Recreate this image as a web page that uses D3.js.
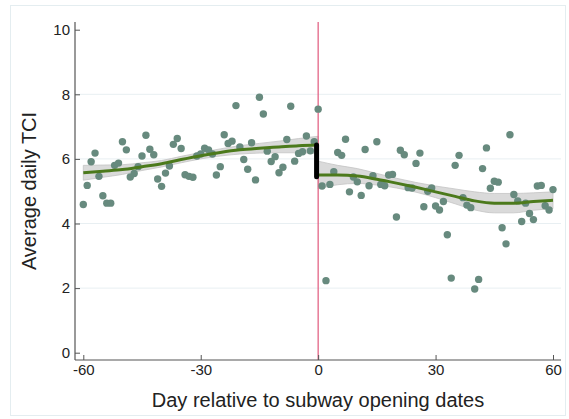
<!DOCTYPE html>
<html>
<head>
<meta charset="utf-8">
<script src="https://cdn.jsdelivr.net/npm/d3@7"></script>
<style>
  html, body { margin: 0; padding: 0; background: #ffffff; }
  svg { display: block; font-family: "Liberation Sans", Arial, sans-serif; }
</style>
</head>
<body>
<svg id="chart" width="569" height="419"></svg>
<script>
// ---------------- data ----------------
const leftDays = d3.range(-60, 1);
const leftValues = [4.59, 5.18, 5.91, 6.18, 5.46, 4.86, 4.63, 4.63, 5.80, 5.87,
  6.53, 6.28, 5.44, 5.55, 5.76, 6.09, 6.73, 6.30, 6.13, 5.38,
  5.15, 5.56, 5.78, 6.45, 6.63, 6.32, 5.51, 5.46, 5.43, 6.09,
  6.15, 6.33, 6.28, 6.15, 5.50, 5.76, 6.75, 6.48, 6.55, 7.65,
  6.37, 5.98, 5.68, 6.50, 5.35, 7.91, 7.39, 6.24, 5.92, 6.07,
  5.57, 5.74, 6.60, 7.63, 5.93, 6.17, 6.22, 6.71, 6.25, 6.53, 7.54];
const rightDays = d3.range(1, 61);
const rightValues = [5.16, 2.23, 5.21, 5.60, 6.20, 6.11, 6.61, 4.98, 5.44, 5.29,
  4.87, 6.29, 5.17, 5.48, 6.53, 5.21, 5.17, 5.50, 5.52, 4.20,
  6.27, 6.13, 5.11, 5.10, 5.86, 6.18, 4.52, 5.00, 5.10, 4.54,
  4.42, 4.68, 3.65, 2.31, 5.80, 6.11, 4.80, 4.57, 4.49, 1.97,
  2.27, 5.70, 6.34, 5.09, 5.31, 5.28, 3.87, 3.37, 6.75, 4.90,
  4.70, 4.06, 4.63, 4.31, 4.12, 5.16, 5.18, 4.55, 4.42, 5.05];

// local polynomial fits with confidence bands
const fitLeftDays = [-60, -55, -50, -45, -40, -35, -30, -25, -20, -15, -10, -5, 0];
const fitLeft     = [5.57, 5.62, 5.67, 5.76, 5.85, 5.98, 6.10, 6.20, 6.28, 6.33, 6.37, 6.41, 6.43];
const ciLeftHalf  = [0.23, 0.19, 0.15, 0.12, 0.10, 0.10, 0.10, 0.11, 0.13, 0.15, 0.18, 0.22, 0.27];
const fitRightDays = [0, 5, 10, 15, 20, 25, 30, 35, 40, 45, 50, 55, 60];
const fitRight     = [5.50, 5.50, 5.47, 5.37, 5.25, 5.12, 4.98, 4.84, 4.70, 4.63, 4.63, 4.68, 4.72];
const ciRightHalf  = [0.43, 0.30, 0.23, 0.18, 0.15, 0.15, 0.18, 0.23, 0.28, 0.30, 0.30, 0.27, 0.26];

// discontinuity at the cutoff
const jumpDay = -0.4;
const jumpFrom = 6.43, jumpTo = 5.45;

const xTicks = [-60, -30, 0, 30, 60];
const xTickLabels = ["-60", "-30", "0", "30", "60"];
const yTicks = [0, 2, 4, 6, 8, 10];
const yTickLabels = ["0", "2", "4", "6", "8", "10"];
const yGrid = [2, 4, 6, 8];
const xTitle = "Day relative to subway opening dates";
const yTitle = "Average daily TCI";

// ---------------- drawing ----------------
const svg = d3.select("#chart");
const plotLeft = 75, plotRight = 561, plotTop = 22, plotBottom = 360;

const x = d3.scaleLinear().domain([-60, 60]).range([83.3, 553]);
const y = d3.scaleLinear().domain([0, 10]).range([352.7, 29.7]);

// outer frame
svg.append("rect").attr("x", 10.5).attr("y", 5.5).attr("width", 555).attr("height", 410)
  .attr("fill", "#ffffff").attr("stroke", "#e4edf0").attr("stroke-width", 1);

// gridlines
svg.append("g").selectAll("line").data(yGrid).join("line")
  .attr("x1", plotLeft).attr("x2", plotRight)
  .attr("y1", d => y(d)).attr("y2", d => y(d))
  .attr("stroke", "#e8eff2").attr("stroke-width", 1);

// CI bands
function band(days, fit, half) {
  const pts = days.map((d, i) => ({ d, lo: fit[i] - half[i], hi: fit[i] + half[i] }));
  const area = d3.area().x(p => x(p.d)).y0(p => y(p.lo)).y1(p => y(p.hi)).curve(d3.curveMonotoneX);
  svg.append("path").datum(pts).attr("d", area)
    .attr("fill", "#dadada").attr("stroke", "#c4c4c4").attr("stroke-width", 0.8);
}
band(fitLeftDays, fitLeft, ciLeftHalf);
band(fitRightDays, fitRight, ciRightHalf);

// red cutoff line
svg.append("line").attr("x1", x(0)).attr("x2", x(0)).attr("y1", plotTop).attr("y2", plotBottom)
  .attr("stroke", "#e0587c").attr("stroke-width", 1.2);

// scatter points
const pts = leftDays.map((d, i) => ({ d, v: leftValues[i] }))
  .concat(rightDays.map((d, i) => ({ d, v: rightValues[i] })));
svg.append("g").selectAll("circle").data(pts).join("circle")
  .attr("cx", p => x(p.d)).attr("cy", p => y(p.v)).attr("r", 3.7)
  .attr("fill", "#678a7e");

// fitted lines
function fitLine(days, fit) {
  const line = d3.line().x((d, i) => x(days[i])).y(d => y(d)).curve(d3.curveMonotoneX);
  svg.append("path").datum(fit).attr("d", line)
    .attr("fill", "none").attr("stroke", "#4c7a1c").attr("stroke-width", 3);
}
fitLine(fitLeftDays, fitLeft);
fitLine(fitRightDays, fitRight);

// jump bar
svg.append("line").attr("x1", x(jumpDay)).attr("x2", x(jumpDay))
  .attr("y1", y(jumpFrom)).attr("y2", y(jumpTo))
  .attr("stroke", "#000000").attr("stroke-width", 5).attr("stroke-linecap", "round");

// axes
const yAxis = svg.append("g").attr("transform", `translate(${plotLeft},0)`)
  .call(d3.axisLeft(y).tickValues(yTicks).tickFormat((d, i) => yTickLabels[i])
    .tickSize(-5).tickPadding(5).tickSizeOuter(0));
const xAxis = svg.append("g").attr("transform", `translate(0,${plotBottom})`)
  .call(d3.axisBottom(x).tickValues(xTicks).tickFormat((d, i) => xTickLabels[i])
    .tickSize(-5).tickPadding(4).tickSizeOuter(0));
[yAxis, xAxis].forEach(g => {
  g.selectAll("text").attr("font-size", 15).attr("fill", "#222").attr("font-family", "Liberation Sans, Arial, sans-serif");
  g.selectAll("line").attr("stroke", "#555");
});
yAxis.select(".domain").remove();
xAxis.select(".domain").remove();
svg.append("line").attr("x1", plotLeft).attr("x2", plotLeft).attr("y1", plotTop).attr("y2", plotBottom)
  .attr("stroke", "#555").attr("stroke-width", 1.2);
svg.append("line").attr("x1", plotLeft).attr("x2", plotRight).attr("y1", plotBottom).attr("y2", plotBottom)
  .attr("stroke", "#555").attr("stroke-width", 1.2);

// titles
svg.append("text").attr("x", 318).attr("y", 407).attr("text-anchor", "middle")
  .attr("font-size", 20).attr("fill", "#222").text(xTitle);
svg.append("text").attr("transform", "translate(36,191) rotate(-90)").attr("text-anchor", "middle")
  .attr("font-size", 20).attr("fill", "#222").text(yTitle);
</script>
</body>
</html>
